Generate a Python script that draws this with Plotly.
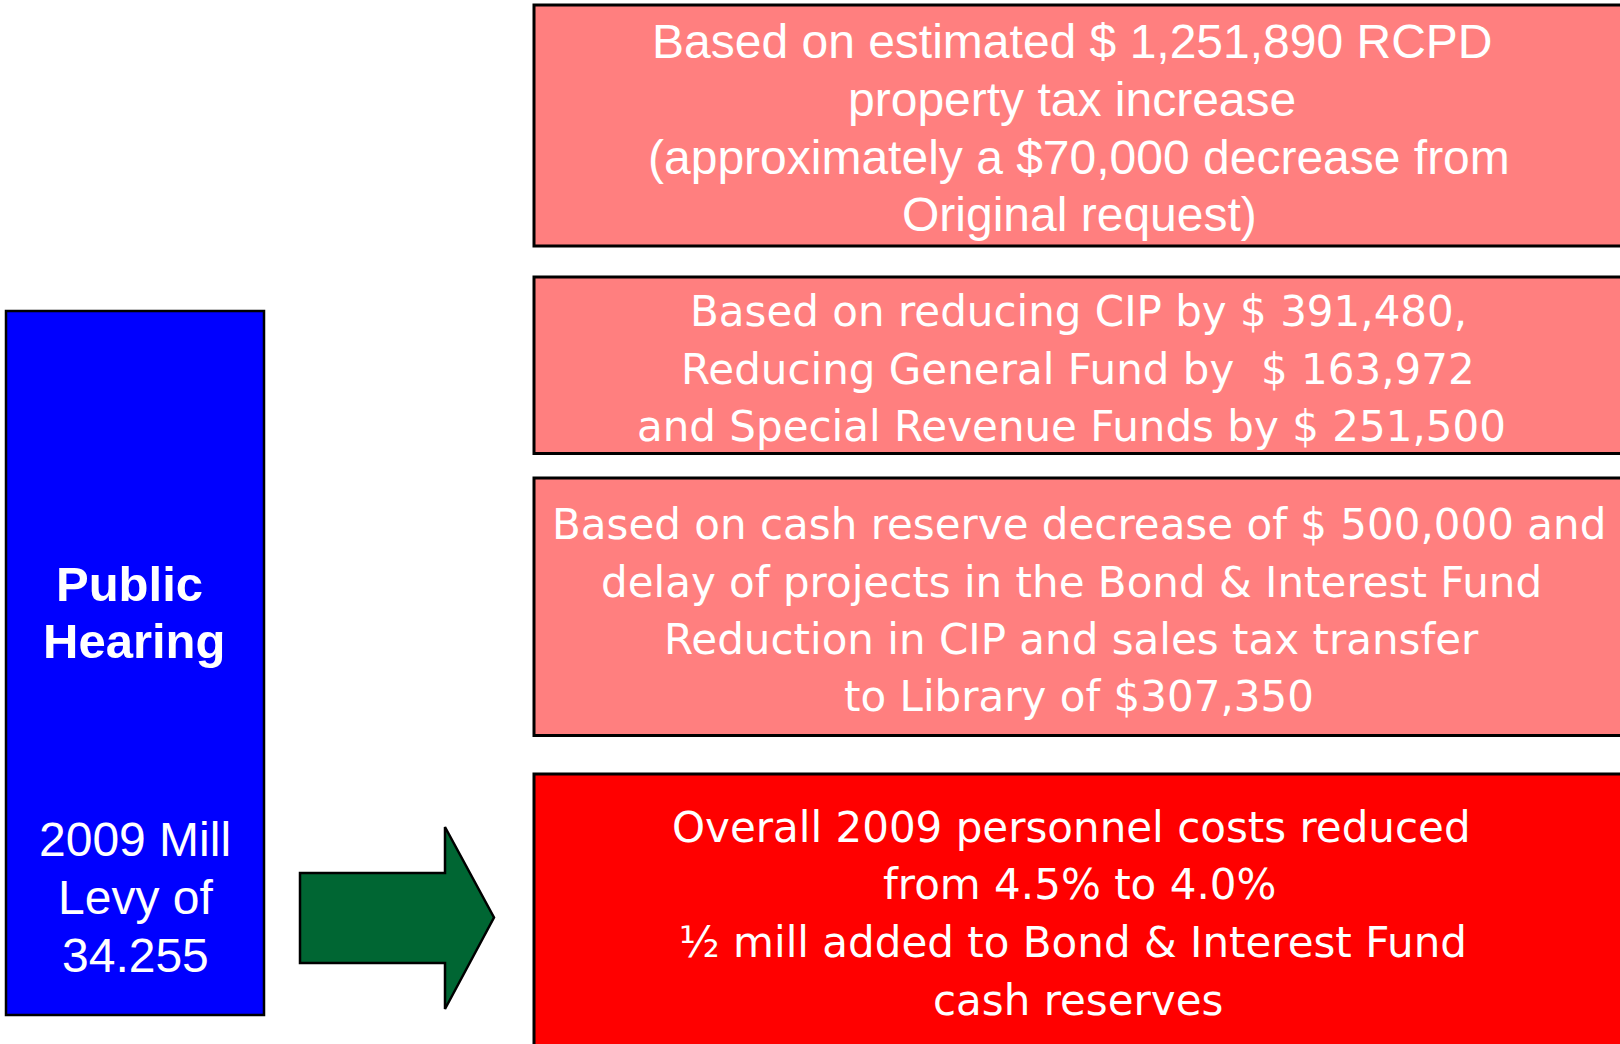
import plotly.graph_objects as go

W, H = 1620, 1044

# ---- text content ----
left_title = ["Public", "Hearing"]
left_sub = ["2009 Mill", "Levy of", "34.255"]
box1_lines = ["Based on estimated $ 1,251,890 RCPD", "property tax increase",
              "(approximately a $70,000 decrease from", "Original request)"]
box2_lines = ["Based on reducing CIP by $ 391,480,", "Reducing General Fund by \u00a0$ 163,972",
              "and Special Revenue Funds by $ 251,500"]
box3_lines = ["Based on cash reserve decrease of $ 500,000 and",
              "delay of projects in the Bond & Interest Fund",
              "Reduction in CIP and sales tax transfer", "to Library of $307,350"]
box4_lines = ["Overall 2009 personnel costs reduced", "from 4.5% to 4.0%",
              "\u00bd mill added to Bond & Interest Fund", "cash reserves"]

fig = go.Figure()

shapes = []
def rect(x0, y0, x1, y1, fill, lw=2.5):
    shapes.append(dict(type="rect", xref="x", yref="y", x0=x0, y0=y0, x1=x1, y1=y1,
                       fillcolor=fill, line=dict(color="black", width=lw), layer="below"))

PINK = "#FF7F7F"
rect(6, 311, 264, 1015, "#0000FF", 2.5)
rect(534, 5, 1640, 246, PINK, 3)
rect(534, 277, 1640, 453.5, PINK, 3)
rect(534, 478, 1640, 735.5, PINK, 3)
rect(534, 774, 1640, 1060, "#FF0000", 3)

shapes.append(dict(type="path", xref="x", yref="y",
                   path="M 300 873 L 445 873 L 445 827 L 494 917.5 L 445 1009 L 445 963 L 300 963 Z",
                   fillcolor="#006633", line=dict(color="black", width=2.5), layer="below"))

annotations = []
def add_lines(lines, xs, ys, family, size, bold=False):
    for t, x, y in zip(lines, xs, ys):
        txt = f"<b>{t}</b>" if bold else t
        annotations.append(dict(x=x, y=y, xref="x", yref="y", text=txt, showarrow=False,
                                xanchor="center", yanchor="middle",
                                font=dict(family=family, size=size, color="white")))

ARIAL = "Liberation Sans, Arial, sans-serif"
TAHOMA = "Tahoma, DejaVu Sans, sans-serif"
add_lines(left_title, [129, 134], [584, 641], ARIAL, 49, bold=True)
add_lines(left_sub, [135, 135, 135], [839, 897, 955], ARIAL, 48)
add_lines(box1_lines, [1072, 1072, 1079, 1079], [41, 99, 157, 214], ARIAL, 48)
add_lines(box2_lines, [1078, 1078, 1071], [311, 369, 426], TAHOMA, 42)
add_lines(box3_lines, [1079, 1071, 1071, 1079], [524, 582, 639, 696], TAHOMA, 42)
add_lines(box4_lines, [1071, 1079, 1073, 1078], [827, 884, 942, 1000], TAHOMA, 42)

fig.update_layout(
    width=W, height=H, margin=dict(l=0, r=0, t=0, b=0),
    paper_bgcolor="white", plot_bgcolor="white",
    xaxis=dict(range=[0, W], visible=False, fixedrange=True),
    yaxis=dict(range=[H, 0], visible=False, fixedrange=True),
    shapes=shapes, annotations=annotations, showlegend=False,
)

fig.write_html("out.html", config={"displayModeBar": False},
               post_script="document.body.style.margin='0';document.body.style.overflow='hidden';")
